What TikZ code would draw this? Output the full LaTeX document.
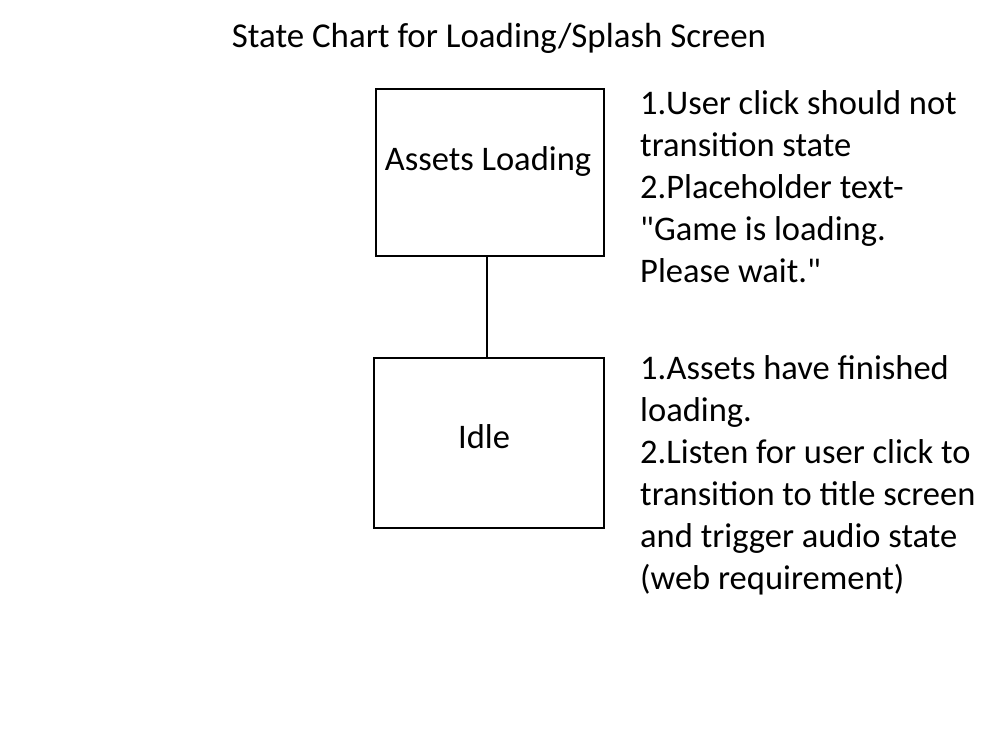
\documentclass[tikz,border=0pt]{standalone}
\usepackage{fontspec}
\setmainfont{Carlito}[Ligatures=TeXOff]
\begin{document}
\begin{tikzpicture}[x=1pt,y=-1pt,
  statebox/.style={draw,line width=2pt,inner sep=0pt},
  txt/.style={inner sep=0pt,font=\fontsize{34.5}{42}\selectfont},
  noteline/.style={txt,anchor=base west}]
\useasboundingbox (0,0) rectangle (1000,750);
\node[txt,anchor=base,font=\fontsize{34.9}{42}\selectfont] (title) at (499,47) {State Chart for Loading/Splash Screen};
\node[statebox,minimum width=228pt,minimum height=167pt] (load) at (490,172.5) {};
\node[txt,anchor=base] (loadt) at (488,170) {Assets Loading};
\node[statebox,minimum width=230pt,minimum height=170pt] (idle) at (489,443) {};
\node[txt,anchor=base] (idlet) at (484,448) {Idle};
\coordinate (ls) at (487,256);
\coordinate (le) at (487,358);
\draw[line width=2pt] (load.south -| ls) -- (idle.north -| le);
\foreach \t [count=\i from 0] in {1.User click should not,transition state,2.Placeholder text-,"Game is loading.,Please wait."}
  \node[noteline] (na\i) at (640,114+42*\i) {\t};
\foreach \t [count=\i from 0] in {1.Assets have finished,loading.,2.Listen for user click to,transition to title screen,and trigger audio state,(web requirement)}
  \node[noteline] (nb\i) at (640,379+42*\i) {\t};
\end{tikzpicture}
\end{document}
